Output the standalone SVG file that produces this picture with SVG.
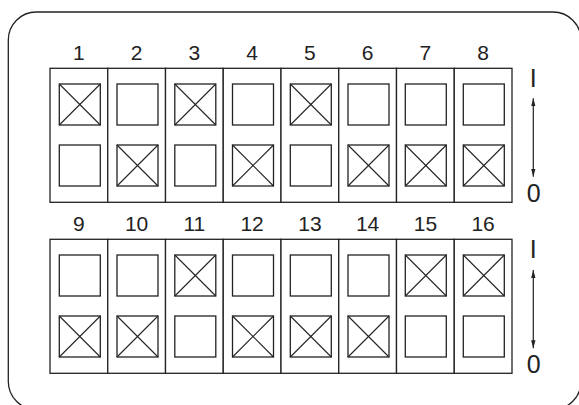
<svg xmlns="http://www.w3.org/2000/svg" width="579" height="405" viewBox="0 0 579 405">
<defs>
<style>
.frame{fill:none;stroke:#222;stroke-width:1.3}
.col{fill:#fff;stroke:#222;stroke-width:1.3}
.sq{fill:#fff;stroke:#222;stroke-width:1.3}
.x{stroke:#222;stroke-width:1.1}
.num{font-family:"Liberation Sans",Arial,sans-serif;font-size:21px;fill:#222;text-anchor:middle}
.io{font-family:"Liberation Sans",Arial,sans-serif;font-size:25px;fill:#222;text-anchor:middle}
.conn{stroke:#222;stroke-width:1.2;fill:none}
</style>
<marker id="ah" viewBox="0 0 8 8" refX="8" refY="4" markerWidth="8" markerHeight="8" markerUnits="userSpaceOnUse" orient="auto">
<path d="M0,1.8 L8,4 L0,6.2 Z" fill="#222"/>
</marker>
<g id="xs"><rect class="sq" x="0" y="0" width="41" height="41"/><line class="x" x1="0" y1="0" x2="41" y2="41"/><line class="x" x1="41" y1="0" x2="0" y2="41"/></g>
<g id="es"><rect class="sq" x="0" y="0" width="41" height="41"/></g>
</defs>
<rect class="frame" x="8.3" y="12" width="572.7" height="397.5" rx="28" ry="28"/>

<g id="col1"><rect class="col" x="50" y="68.3" width="57.75" height="134"/><use href="#xs" x="59.3" y="84"/><use href="#es" x="59.3" y="145"/><text class="num" x="78.9" y="60">1</text></g>
<g id="col2"><rect class="col" x="107.75" y="68.3" width="57.75" height="134"/><use href="#es" x="117" y="84"/><use href="#xs" x="117" y="145"/><text class="num" x="136.6" y="60">2</text></g>
<g id="col3"><rect class="col" x="165.5" y="68.3" width="57.75" height="134"/><use href="#xs" x="174.8" y="84"/><use href="#es" x="174.8" y="145"/><text class="num" x="194.4" y="60">3</text></g>
<g id="col4"><rect class="col" x="223.25" y="68.3" width="57.75" height="134"/><use href="#es" x="232.5" y="84"/><use href="#xs" x="232.5" y="145"/><text class="num" x="252.1" y="60">4</text></g>
<g id="col5"><rect class="col" x="281" y="68.3" width="57.75" height="134"/><use href="#xs" x="290.3" y="84"/><use href="#es" x="290.3" y="145"/><text class="num" x="309.9" y="60">5</text></g>
<g id="col6"><rect class="col" x="338.75" y="68.3" width="57.75" height="134"/><use href="#es" x="348" y="84"/><use href="#xs" x="348" y="145"/><text class="num" x="367.6" y="60">6</text></g>
<g id="col7"><rect class="col" x="396.5" y="68.3" width="57.75" height="134"/><use href="#es" x="405.3" y="84"/><use href="#xs" x="405.3" y="145"/><text class="num" x="425.4" y="60">7</text></g>
<g id="col8"><rect class="col" x="454.25" y="68.3" width="57.75" height="134"/><use href="#es" x="463.3" y="84"/><use href="#xs" x="463.3" y="145"/><text class="num" x="483.1" y="60">8</text></g>

<g id="col9"><rect class="col" x="50" y="239.3" width="57.75" height="134"/><use href="#es" x="59.3" y="255"/><use href="#xs" x="59.3" y="316"/><text class="num" x="78.9" y="230.7">9</text></g>
<g id="col10"><rect class="col" x="107.75" y="239.3" width="57.75" height="134"/><use href="#es" x="117" y="255"/><use href="#xs" x="117" y="316"/><text class="num" x="136.6" y="230.7">10</text></g>
<g id="col11"><rect class="col" x="165.5" y="239.3" width="57.75" height="134"/><use href="#xs" x="174.8" y="255"/><use href="#es" x="174.8" y="316"/><text class="num" x="194.4" y="230.7">11</text></g>
<g id="col12"><rect class="col" x="223.25" y="239.3" width="57.75" height="134"/><use href="#es" x="232.5" y="255"/><use href="#xs" x="232.5" y="316"/><text class="num" x="252.1" y="230.7">12</text></g>
<g id="col13"><rect class="col" x="281" y="239.3" width="57.75" height="134"/><use href="#es" x="290.3" y="255"/><use href="#xs" x="290.3" y="316"/><text class="num" x="309.9" y="230.7">13</text></g>
<g id="col14"><rect class="col" x="338.75" y="239.3" width="57.75" height="134"/><use href="#es" x="348" y="255"/><use href="#xs" x="348" y="316"/><text class="num" x="367.6" y="230.7">14</text></g>
<g id="col15"><rect class="col" x="396.5" y="239.3" width="57.75" height="134"/><use href="#xs" x="405.3" y="255"/><use href="#es" x="405.3" y="316"/><text class="num" x="425.4" y="230.7">15</text></g>
<g id="col16"><rect class="col" x="454.25" y="239.3" width="57.75" height="134"/><use href="#xs" x="463.3" y="255"/><use href="#es" x="463.3" y="316"/><text class="num" x="483.1" y="230.7">16</text></g>

<g id="scale-top"><text class="io" x="533.3" y="86.7">I</text><text class="io" x="533.6" y="202.3">0</text></g>
<g id="scale-bottom"><text class="io" x="533.3" y="258.3">I</text><text class="io" x="533.6" y="373.3">0</text></g>

<g id="connectors">
<line class="conn" x1="533.3" y1="138" x2="533.3" y2="98.3" marker-end="url(#ah)"/>
<line class="conn" x1="533.3" y1="138" x2="533.3" y2="176.7" marker-end="url(#ah)"/>
<line class="conn" x1="533.3" y1="309" x2="533.3" y2="270" marker-end="url(#ah)"/>
<line class="conn" x1="533.3" y1="309" x2="533.3" y2="348.3" marker-end="url(#ah)"/>
</g>
</svg>
